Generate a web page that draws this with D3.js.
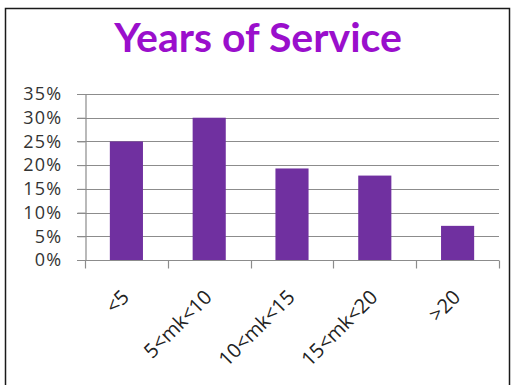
<!DOCTYPE html>
<html>
<head>
<meta charset="utf-8">
<script src="https://cdn.jsdelivr.net/npm/d3@7"></script>
<style>
  html, body { margin: 0; padding: 0; background: #fff; }
  svg { display: block; }
</style>
</head>
<body>
<svg id="chart" width="511" height="385"></svg>
<script>
// Share of staff by length of service
const categories = ["<5", "5<mk<10", "10<mk<15", "15<mk<20", ">20"];
const shares = [25, 30, 19.3, 17.8, 7.2];
const yTicks = [0, 5, 10, 15, 20, 25, 30, 35];
const chartTitle = "Years of Service";

const svg = d3.select("#chart");
const W = 511, H = 385;
const margin = { left: 85, right: 12, top: 94, bottom: 125 };

// outer frame
svg.append("rect")
  .attr("x", 5.5).attr("y", 8.5)
  .attr("width", W - 7).attr("height", H)
  .attr("fill", "#fff").attr("stroke", "#1a1a1a").attr("stroke-width", 1.5);

svg.append("text")
  .attr("x", 258).attr("y", 52)
  .attr("text-anchor", "middle")
  .attr("font-family", "Lato, 'Open Sans', sans-serif")
  .attr("font-weight", "bold")
  .attr("font-size", 41)
  .attr("fill", "#9a0fcc")
  .text(chartTitle);

const x = d3.scaleBand()
  .domain(categories)
  .range([margin.left, W - margin.right])
  .paddingInner(0.6).paddingOuter(0.3);

const y = d3.scaleLinear()
  .domain([0, 35])
  .range([H - margin.bottom, margin.top]);

// horizontal gridlines
svg.append("g")
  .selectAll("line")
  .data(yTicks)
  .join("line")
  .attr("x1", margin.left - 8).attr("x2", W - margin.right)
  .attr("y1", d => Math.round(y(d)) + 0.5).attr("y2", d => Math.round(y(d)) + 0.5)
  .attr("stroke", "#8c8c8c").attr("stroke-width", 1.2);

// bars
svg.append("g")
  .selectAll("rect")
  .data(shares)
  .join("rect")
  .attr("x", (d, i) => x(categories[i]))
  .attr("width", x.bandwidth())
  .attr("y", d => y(d))
  .attr("height", d => y(0) - y(d))
  .attr("fill", "#7030a0");

// y axis
const yAxis = svg.append("g")
  .attr("transform", `translate(${margin.left + 0.5},0)`)
  .call(d3.axisLeft(y).tickValues(yTicks).tickFormat(d => d + "%").tickSize(8).tickPadding(15));
yAxis.select(".domain").attr("stroke", "#8c8c8c").attr("stroke-width", 1.2);
yAxis.selectAll(".tick line").attr("stroke", "#8c8c8c");
yAxis.selectAll("text")
  .attr("font-family", "'Open Sans', sans-serif")
  .attr("font-size", 18)
  .attr("letter-spacing", 1.3)
  .attr("fill", "#333");

// x axis with tick marks between categories
const xEdge = d3.scaleLinear().domain([0, categories.length]).range([margin.left, W - margin.right]);
const xAxis = svg.append("g")
  .attr("transform", `translate(0,${Math.round(y(0)) + 0.5})`);
xAxis.append("line")
  .attr("x1", margin.left).attr("x2", W - margin.right)
  .attr("stroke", "#8c8c8c").attr("stroke-width", 1.2);
xAxis.selectAll("line.tk")
  .data(d3.range(categories.length + 1))
  .join("line")
  .attr("class", "tk")
  .attr("x1", d => Math.round(xEdge(d)) + 0.5).attr("x2", d => Math.round(xEdge(d)) + 0.5)
  .attr("y1", 0).attr("y2", 8)
  .attr("stroke", "#8c8c8c").attr("stroke-width", 1.2);
xAxis.selectAll("text")
  .data(categories)
  .join("text")
  .attr("transform", d => `translate(${x(d) + x.bandwidth() / 2 + 4},${38}) rotate(-45)`)
  .attr("text-anchor", "end")
  .attr("font-family", "'Open Sans', sans-serif")
  .attr("font-size", 20)
  .attr("fill", "#222")
  .text(d => d);
</script>
</body>
</html>
